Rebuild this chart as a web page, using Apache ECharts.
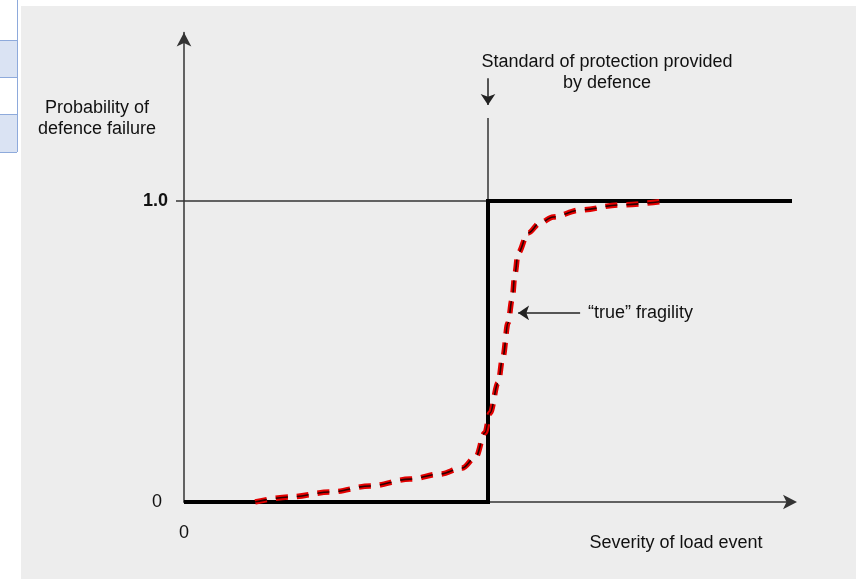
<!DOCTYPE html>
<html>
<head>
<meta charset="utf-8">
<script src="https://cdn.jsdelivr.net/npm/echarts@6/dist/echarts.min.js"></script>
<style>
  html, body { margin: 0; padding: 0; background: #ffffff; }
  #wrap { position: relative; width: 856px; height: 579px; overflow: hidden; }
  #panel { position: absolute; left: 21px; top: 6px; right: 0; bottom: 0; background: #ededed; }
  #edge { position: absolute; left: 17px; top: 0; width: 1px; height: 152px; background: #8eaadb; }
  .cell { position: absolute; left: 0; width: 17px; background: #dae3f3; border-top: 1px solid #8eaadb; border-bottom: 1px solid #8eaadb; }
  #chart { position: absolute; left: 0; top: 0; width: 856px; height: 579px; }
</style>
</head>
<body>
<div id="wrap">
  <div id="panel"></div>
  <div id="edge"></div>
  <div class="cell" style="top:40px;height:36px;"></div>
  <div class="cell" style="top:114px;height:37px;"></div>
  <div id="chart"></div>
</div>
<script>
// ---- data ----
const xRange = [0, 20];
const yRange = [0, 1.56];
const standardX = 10;
// idealised (step) fragility
const stepCurve = [[0, 0], [10, 0], [10, 1], [20, 1]];
// "true" fragility curve
const trueX = [2.34, 3.49, 4.80, 6.12, 7.43, 8.42, 9.15, 9.60, 9.90, 10.07, 10.33, 10.49, 10.66, 10.79, 10.89, 10.99, 11.32, 11.71, 12.14, 13.03, 14.34, 15.82];
const trueY = [0.0, 0.017, 0.033, 0.053, 0.076, 0.093, 0.113, 0.150, 0.230, 0.296, 0.395, 0.482, 0.595, 0.671, 0.761, 0.827, 0.894, 0.927, 0.947, 0.970, 0.987, 1.0];
const yTickLabels = [{ value: 0, text: '0' }, { value: 1, text: '1.0' }];
const xTickLabels = [{ value: 0, text: '0' }];
const standardLineTop = 1.276;
const standardArrow = [[10, 1.408], [10, 1.319]];
const fragilityPointer = [[13.03, 0.628], [10.99, 0.628]];
const texts = {
  yName: 'Probability of\ndefence failure',
  xName: 'Severity of load event',
  standard: 'Standard of protection provided\nby defence',
  fragility: '\u201ctrue\u201d fragility'
};

const trueCurve = trueX.map((x, i) => [x, trueY[i]]);
const FONT = '"Liberation Sans", Arial, sans-serif';
const TXT = '#111';

const chart = echarts.init(document.getElementById('chart'), null, { renderer: 'canvas' });
chart.setOption({
  backgroundColor: 'transparent',
  animation: false,
  grid: { left: 184, right: 64, top: 32.4, bottom: 77, containLabel: false },
  xAxis: {
    type: 'value', min: xRange[0], max: xRange[1],
    axisLine: { show: true, lineStyle: { color: '#333', width: 1.5 }, symbol: ['none', 'arrow'], symbolSize: [11, 14], symbolOffset: [0, 5] },
    axisTick: { show: false },
    splitLine: { show: false },
    axisLabel: {
      customValues: xTickLabels.map(d => d.value),
      formatter: v => (xTickLabels.find(d => d.value === v) || {}).text || '',
      margin: 22, fontFamily: FONT, fontSize: 18, color: TXT
    }
  },
  yAxis: {
    type: 'value', min: yRange[0], max: yRange[1],
    axisLine: { show: true, lineStyle: { color: '#333', width: 1.5 }, symbol: ['none', 'arrow'], symbolSize: [11, 14] },
    axisTick: { show: true, customValues: [1], length: 8, lineStyle: { color: '#333', width: 1.5 } },
    splitLine: { show: false },
    axisLabel: {
      customValues: yTickLabels.map(d => d.value),
      formatter: v => v === 0 ? '{z|0}' : '{o|' + ((yTickLabels.find(d => d.value === v) || {}).text || '') + '}',
      margin: 16,
      rich: {
        z: { fontFamily: FONT, fontSize: 18, color: TXT, padding: [0, 6, 0, 0] },
        o: { fontFamily: FONT, fontSize: 18, fontWeight: 'bold', color: TXT }
      }
    }
  },
  series: [
    { // thin line at 1.0
      type: 'line', data: [[xRange[0], 1], [xRange[1], 1]], symbol: 'none', silent: true,
      lineStyle: { color: '#333', width: 1.5 }, z: 1
    },
    { // thin vertical line at standard of protection
      type: 'line', data: [[standardX, 0], [standardX, standardLineTop]], symbol: 'none', silent: true,
      lineStyle: { color: '#333', width: 1.5 }, z: 1
    },
    { // step fragility
      type: 'line', data: stepCurve, symbol: 'none', silent: true,
      lineStyle: { color: '#000', width: 4, cap: 'butt', join: 'miter' }, z: 3
    },
    { // true fragility - red halo
      type: 'line', data: trueCurve, symbol: 'none', silent: true, smooth: 0.35, smoothMonotone: 'x',
      lineStyle: { color: '#e40000', width: 5.5, type: [12, 9], cap: 'butt' }, z: 4
    },
    { // true fragility - dark core
      type: 'line', data: trueCurve, symbol: 'none', silent: true, smooth: 0.35, smoothMonotone: 'x',
      lineStyle: { color: '#300000', width: 1.6, type: [12, 9], cap: 'butt' }, z: 5
    },
    { // annotation arrows
      type: 'lines', coordinateSystem: 'cartesian2d', silent: true, z: 6,
      symbol: ['none', 'arrow'], symbolSize: 11,
      lineStyle: { color: '#222', width: 1.5, opacity: 1 },
      data: [{ coords: standardArrow }, { coords: fragilityPointer }]
    }
  ],
  graphic: [
    { type: 'text', x: 97, y: 98, style: { text: texts.yName, font: '18px ' + FONT, fill: TXT, align: 'center', verticalAlign: 'top', lineHeight: 21 } },
    { type: 'text', x: 607, y: 52, style: { text: texts.standard, font: '18px ' + FONT, fill: TXT, align: 'center', verticalAlign: 'top', lineHeight: 21 } },
    { type: 'text', x: 588, y: 313, style: { text: texts.fragility, font: '18px ' + FONT, fill: TXT, align: 'left', verticalAlign: 'middle' } },
    { type: 'text', x: 676, y: 543, style: { text: texts.xName, font: '18px ' + FONT, fill: TXT, align: 'center', verticalAlign: 'middle' } }
  ]
});
</script>
</body>
</html>
